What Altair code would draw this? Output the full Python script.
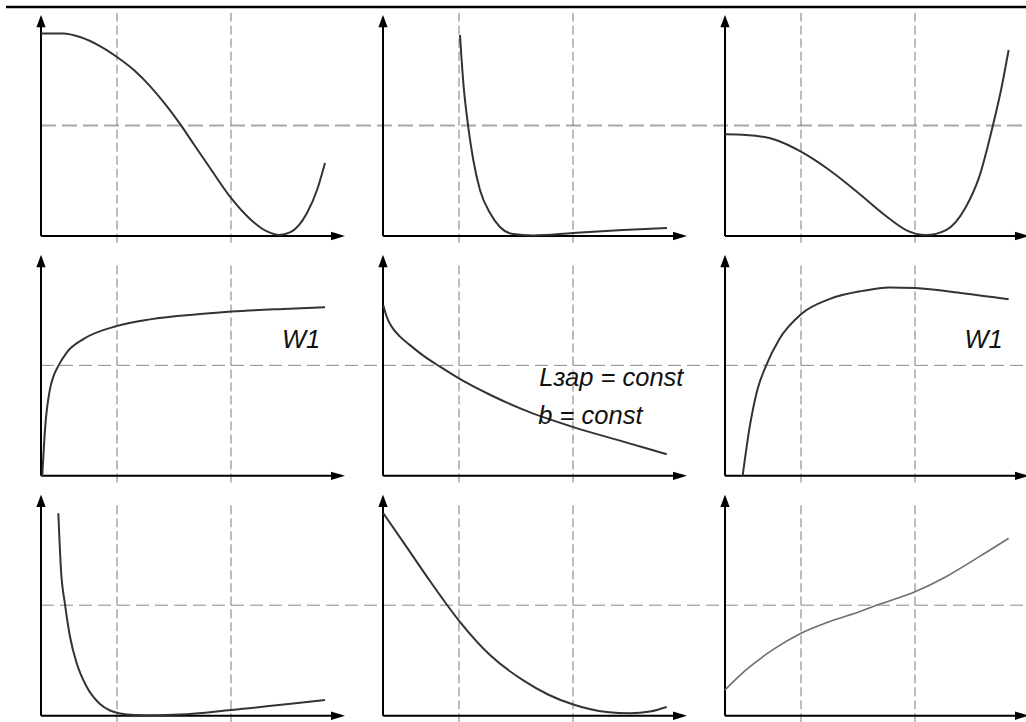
import altair as alt
import pandas as pd

# ---- curve samples in local panel units (x: 0..4 to arrow tip, y: 0..2 to arrow tip) ----
p1_x = [0.0, 0.289, 0.513, 0.776, 1.0, 1.237, 1.434, 1.632, 1.829, 2.026, 2.224, 2.5, 2.75,
        2.974, 3.132, 3.276, 3.5, 3.632, 3.737]
p1_y = [1.833, 1.833, 1.801, 1.719, 1.62, 1.493, 1.357, 1.195, 1.014, 0.814, 0.615, 0.344, 0.154,
        0.041, 0.009, 0.032, 0.208, 0.416, 0.661]

p2_x = [1.013, 1.057, 1.122, 1.188, 1.276, 1.408, 1.539, 1.711, 1.974, 2.5, 3.158, 3.737]
p2_y = [1.819, 1.385, 0.986, 0.688, 0.416, 0.208, 0.081, 0.018, 0.005, 0.027, 0.054, 0.072]

p3_x = [0.0, 0.276, 0.671, 1.0, 1.372, 1.724, 2.118, 2.382, 2.645, 2.908, 3.171, 3.346, 3.521,
        3.632, 3.732]
p3_y = [0.92, 0.915, 0.869, 0.763, 0.597, 0.407, 0.181, 0.054, 0.009, 0.054, 0.265, 0.537, 0.989,
        1.321, 1.683]

p4_x = [0.017, 0.053, 0.118, 0.164, 0.228, 0.338, 0.557, 1.004, 1.434, 2.092, 2.504, 3.188, 3.737]
p4_y = [0.0, 0.423, 0.785, 0.9, 0.995, 1.116, 1.237, 1.357, 1.416, 1.464, 1.487, 1.511, 1.526]

p5_x = [0.004, 0.033, 0.070, 0.132, 0.224, 0.355, 0.530, 0.750, 1.004, 1.408, 1.846, 2.504,
        3.161, 3.733]
p5_y = [1.545, 1.472, 1.405, 1.332, 1.260, 1.183, 1.088, 0.988, 0.880, 0.734, 0.599, 0.441,
        0.310, 0.196]

p6_x = [0.232, 0.32, 0.429, 0.539, 0.714, 1.0, 1.372, 1.811, 2.162, 2.5, 3.126, 3.732]
p6_y = [0.0, 0.423, 0.785, 0.995, 1.237, 1.463, 1.599, 1.674, 1.705, 1.699, 1.653, 1.599]

p7_x = [0.228, 0.263, 0.316, 0.382, 0.47, 0.601, 0.776, 0.908, 1.039, 1.237, 1.5, 1.829,
        2.504, 3.737]
p7_y = [1.832, 1.319, 1.008, 0.715, 0.474, 0.262, 0.106, 0.047, 0.02, 0.006, 0.004, 0.01,
        0.052, 0.142]

p8_x = [0.004, 0.312, 0.618, 1.004, 1.408, 1.846, 2.171, 2.504, 2.943, 3.25, 3.513, 3.733]
p8_y = [1.832, 1.525, 1.219, 0.857, 0.549, 0.319, 0.192, 0.101, 0.033, 0.022, 0.038, 0.079]

p9_x = [0.0, 0.276, 0.626, 1.0, 1.372, 1.767, 2.03, 2.5, 2.908, 3.346, 3.732]
p9_y = [0.233, 0.414, 0.595, 0.746, 0.851, 0.941, 1.008, 1.122, 1.258, 1.439, 1.605]

curves = [(p1_x, p1_y), (p2_x, p2_y), (p3_x, p3_y),
          (p4_x, p4_y), (p5_x, p5_y), (p6_x, p6_y),
          (p7_x, p7_y), (p8_x, p8_y), (p9_x, p9_y)]
curve_tone = ["#333333"] * 8 + ["#6e6e6e"]

# reference lines (local units)
guide_x = [1.0, 2.5]
guide_y = 1.0

# annotations: panel index, x, y, text
label_panel = [3, 5, 4, 4]
label_x = [3.17, 3.15, 2.057, 2.044]
label_y = [1.156, 1.156, 0.814, 0.468]
label_text = ["W1", "W1", "Lзар = const", "b = const"]

# ---- layout of the 3x3 grid ----
W, H = 1026, 722
PX_X, PX_Y = 76.0, 110.5          # pixels per local unit
COL_STEP, ROW_STEP = 4.5, 2.1706  # panel offsets in local units
X0 = -41 / PX_X
X1 = X0 + W / PX_X
Y1 = 236 / PX_Y
Y0 = Y1 - H / PX_Y

xs = alt.Scale(domain=[X0, X1], nice=False, zero=False)
ys = alt.Scale(domain=[Y0, Y1], nice=False, zero=False)

to_global = dict(gx="datum.x + datum.col * %f" % COL_STEP,
                 gy="datum.y - datum.row * %f" % ROW_STEP)


def gxy(df):
    return alt.Chart(df).transform_calculate(**to_global)


# curves
rows = []
for i, (cx, cy) in enumerate(curves):
    for a, b in zip(cx, cy):
        rows.append(dict(panel=i, col=i % 3, row=i // 3, x=a, y=b, tone=curve_tone[i],
                         w=2.0 if i < 8 else 1.6))
curve_df = pd.DataFrame(rows)

curve_layer = gxy(curve_df).mark_line(interpolate="monotone").encode(
    x=alt.X("gx:Q", scale=xs, axis=None),
    y=alt.Y("gy:Q", scale=ys, axis=None),
    detail="panel:N",
    color=alt.Color("tone:N", scale=None),
    strokeWidth=alt.StrokeWidth("w:Q", scale=None),
    order="x:Q",
)

# vertical dashed guides
vrows = []
for i in range(9):
    r = i // 3
    for gxv in guide_x:
        vrows.append(dict(col=i % 3, row=r, x=gxv, y=-0.06, y2=2.02 if r == 0 else 1.94))
vdf = pd.DataFrame(vrows)
vguide = gxy(vdf).transform_calculate(gy2="datum.y2 - datum.row * %f" % ROW_STEP).mark_rule(
    color="#7a7a7a", strokeWidth=1, strokeDash=[9, 4]
).encode(
    x=alt.X("gx:Q", scale=xs, axis=None),
    y=alt.Y("gy:Q", scale=ys, axis=None),
    y2="gy2:Q",
)

# horizontal dashed guides running across each row
hdf = pd.DataFrame(dict(col=[0, 0, 0], row=[0, 1, 2], x=[0.0] * 3, x2=[X1 - 0.01] * 3,
                        y=[guide_y] * 3))
hguide_top = gxy(hdf[hdf.row == 0]).transform_calculate(gx2="datum.x2").mark_rule(
    color="#a8a8a8", strokeWidth=2, strokeDash=[15, 6]
).encode(
    x=alt.X("gx:Q", scale=xs, axis=None), x2="gx2:Q",
    y=alt.Y("gy:Q", scale=ys, axis=None),
)
hguide_rest = gxy(hdf[hdf.row > 0]).transform_calculate(gx2="datum.x2").mark_rule(
    color="#8a8a8a", strokeWidth=1, strokeDash=[13, 6]
).encode(
    x=alt.X("gx:Q", scale=xs, axis=None), x2="gx2:Q",
    y=alt.Y("gy:Q", scale=ys, axis=None),
)

# axes with arrowheads
panels = pd.DataFrame(dict(col=[i % 3 for i in range(9)], row=[i // 3 for i in range(9)]))
yaxis_df = panels.assign(x=0.0, y=0.0, y2=1.98)
xaxis_df = panels.assign(x=0.0, y=0.0, x2=3.95)

yaxis = gxy(yaxis_df).transform_calculate(gy2="datum.y2 - datum.row * %f" % ROW_STEP).mark_rule(
    color="black", strokeWidth=2
).encode(
    x=alt.X("gx:Q", scale=xs, axis=None),
    y=alt.Y("gy:Q", scale=ys, axis=None), y2="gy2:Q",
)
xaxis = gxy(xaxis_df).transform_calculate(gx2="datum.x2 + datum.col * %f" % COL_STEP).mark_rule(
    color="black", strokeWidth=2
).encode(
    x=alt.X("gx:Q", scale=xs, axis=None), x2="gx2:Q",
    y=alt.Y("gy:Q", scale=ys, axis=None),
)

up_tip = panels.assign(x=0.0, y=2.0)
right_tip = panels.assign(x=4.0, y=0.0)
up_arrow = gxy(up_tip).mark_point(
    shape="M0,0L-0.33,0.88L0.33,0.88Z", size=784, filled=True, color="black",
    opacity=1, strokeWidth=0
).encode(x=alt.X("gx:Q", scale=xs, axis=None), y=alt.Y("gy:Q", scale=ys, axis=None))
right_arrow = gxy(right_tip).mark_point(
    shape="M0,0L-1,-0.3L-1,0.3Z", size=784, filled=True, color="black",
    opacity=1, strokeWidth=0
).encode(x=alt.X("gx:Q", scale=xs, axis=None), y=alt.Y("gy:Q", scale=ys, axis=None))

# rule along the top of the figure
top_rule = alt.Chart(pd.DataFrame({"k": [0]})).mark_rule(color="black", strokeWidth=2.5).encode(
    x=alt.value(6), x2=alt.value(1026), y=alt.value(7)
)

# text annotations
label_df = pd.DataFrame(dict(col=[p % 3 for p in label_panel], row=[p // 3 for p in label_panel],
                             x=label_x, y=label_y, text=label_text))
labels = gxy(label_df).mark_text(
    font="Liberation Sans", fontStyle="italic", fontSize=25.5, align="left",
    baseline="alphabetic", color="#111111"
).encode(
    x=alt.X("gx:Q", scale=xs, axis=None),
    y=alt.Y("gy:Q", scale=ys, axis=None),
    text="text:N",
)

chart = alt.layer(
    top_rule, hguide_top, hguide_rest, vguide, yaxis, xaxis, up_arrow, right_arrow,
    curve_layer, labels
).properties(
    width=W, height=H, padding=0, autosize=alt.AutoSizeParams(type="none"),
    background="white"
).configure_view(stroke=None)

chart.save("out.html", embed_options={"renderer": "svg", "actions": False})
